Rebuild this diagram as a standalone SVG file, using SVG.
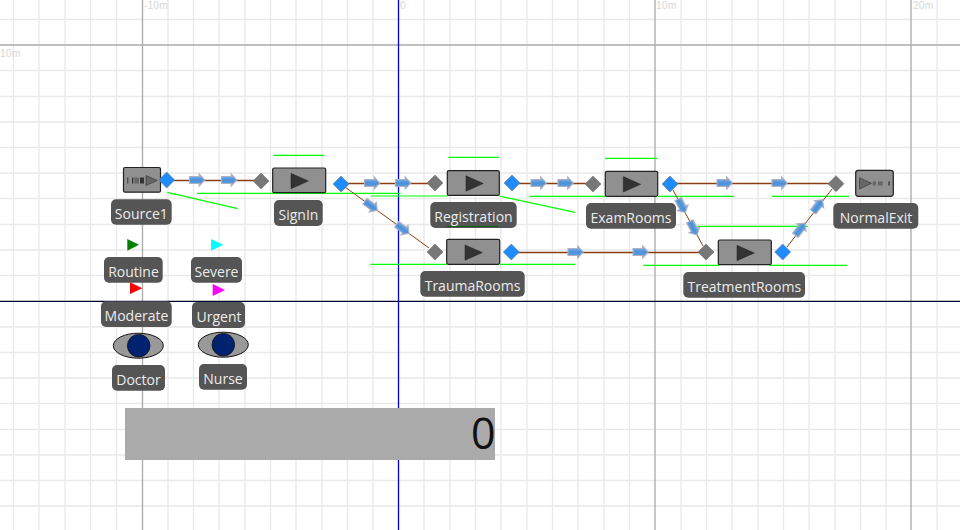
<svg xmlns="http://www.w3.org/2000/svg" width="960" height="530" viewBox="0 0 960 530">
<style>
text{font-family:"Open Sans","Liberation Sans",sans-serif}
.minor{stroke:#e9e9e9;stroke-width:1.3;fill:none}
.major{stroke:#aaa;stroke-width:1.300;fill:none}
.ax{font-family:"Liberation Sans",sans-serif;font-size:10.5px;fill:#d8d8d8}
.gl{stroke:#0f0;stroke-width:1.200;fill:none}
.box{fill:#909090;stroke:#222;stroke-width:1.200}
.tri{fill:#333;stroke:#222;stroke-width:.5}
.lb{fill:#555}
.lt{fill:#ececec;font-size:14px;text-anchor:middle}
.bd{fill:#1e8cff;stroke:#777;stroke-width:.6}
.gd{fill:#777;stroke:#777;stroke-width:.6}
.cn{stroke:#8b3e10;fill:none;stroke-width:1.500}
.cd{stroke:#8b3e10;fill:none;stroke-width:1}
.eye{fill:#999;stroke:#111;stroke-width:1}
.pu{fill:#00236f;stroke:#111;stroke-width:.8}
</style>
<defs>
<linearGradient id="ag" x1="0" y1="0" x2="0" y2="1"><stop offset="0" stop-color="#8fc0ee"/><stop offset=".5" stop-color="#4a90d9"/><stop offset="1" stop-color="#6fa8dc"/></linearGradient>
<path id="ar" d="M-7.500-3.500H2.200V-6L7.800 0 2.200 6V3.500H-7.500Z" fill="url(#ag)" stroke="#b0b0c4" stroke-width="1.100"/>
<path id="bd" class="bd" d="M0-8 8 0 0 8-8 0Z"/>
<path id="gd" class="gd" d="M0-8 8 0 0 8-8 0Z"/>
<path id="tr" class="tri" d="M0-7.700V7.700L17.300 0Z"/>
</defs>
<g id="grid">
<path class="minor" d="M13.500 0V530M39 0V530M65 0V530M90.500 0V530M116.500 0V530M168 0V530M193.500 0V530M219 0V530M245 0V530M270.500 0V530M296 0V530M322 0V530M347.500 0V530M373 0V530M424 0V530M450 0V530M475.500 0V530M501 0V530M527 0V530M552.500 0V530M578 0V530M604 0V530M629.500 0V530M681 0V530M706.500 0V530M732 0V530M758 0V530M783.500 0V530M809 0V530M835 0V530M860.500 0V530M886 0V530M937 0V530"/>
<path class="minor" d="M0 19.500H960M0 70.500H960M0 96.500H960M0 122H960M0 147.500H960M0 173H960M0 198.500H960M0 224.500H960M0 250H960M0 275.500H960M0 327H960M0 352.500H960M0 378H960M0 403.500H960M0 429.500H960M0 455H960M0 480.500H960M0 506H960"/>
<path class="major" d="M142.500 0V530M655 0V530M911 0V530M0 45H960"/>
<text class="ax" x="144" y="9">-10m</text><text class="ax" x="400" y="9">0</text><text class="ax" x="656" y="9">10m</text><text class="ax" x="913" y="9">20m</text><text class="ax" x="0" y="57">10m</text>
<path d="M398.500 0V530" stroke="#0000e6" stroke-width="1.300" fill="none"/>
<path d="M0 301.300H960" stroke="#00003a" stroke-width="1.300" fill="none"/>
</g>
<g id="resources-lines">
<path class="gl" d="M167.300 192.300 237.700 208.700M197 193.300H400.700M273.300 155.300H324M370.700 196H447.700M448.300 157.300H499M499.300 196 575 212.300M529.300 196.300H606M605 158.300H657M658 196.300H734M772 196.300H849M370.300 264.300H446.700M500 264.300H575M643.300 265.300H719M770 265.300H847M697.300 226.300H807.700"/>
</g>
<g id="connectors">
<path class="cn" d="M173 180.500H255M347 183.500H429M518 183.500H587M676 183.500H830M517 252.500H700"/>
<path class="cd" d="M345 187 429 248M673 190 703 246M787 247 832 189"/>
<use href="#ar" x="197" y="180"/><use href="#ar" x="229" y="180"/>
<use href="#ar" x="372" y="183"/><use href="#ar" x="403" y="183"/>
<use href="#ar" x="538.500" y="183"/><use href="#ar" x="565.500" y="183"/>
<use href="#ar" x="724.500" y="183"/><use href="#ar" x="779.500" y="183"/>
<use href="#ar" x="575.500" y="252"/><use href="#ar" x="640.500" y="252"/>
<use href="#ar" transform="translate(371 205.700) rotate(36)"/><use href="#ar" transform="translate(402.700 228.700) rotate(36)"/>
<use href="#ar" transform="translate(681.700 205.700) rotate(62)"/><use href="#ar" transform="translate(693.300 228) rotate(62)"/>
<use href="#ar" transform="translate(800 229.300) rotate(-52)"/><use href="#ar" transform="translate(817.700 206) rotate(-52)"/>
</g>
<g id="Source1">
<rect class="box" x="123.500" y="167.500" width="37" height="24.700" rx="1.500"/>
<path d="M127.300 177.500h1v6h-1zM132 177.500h1.300v6h-1.300zM140 177.500h4v6h-4z" fill="#333"/><path d="M134.300 177.500h4.700v6h-4.700z" fill="#666"/>
<path d="M146 175.500V185.500L157.300 180.500Z" fill="#666" stroke="#333" stroke-width=".6"/>
<use href="#bd" x="166.700" y="180"/>
<rect class="lb" x="111" y="199.300" width="60.700" height="25.500" rx="5"/><text class="lt" x="141.300" y="219">Source1</text>
</g>
<g id="SignIn">
<use href="#gd" x="261" y="181"/>
<rect class="box" x="272.700" y="168" width="53" height="24.700" rx="1.500"/>
<use href="#tr" x="291" y="181"/>
<use href="#bd" x="341" y="184"/>
<rect class="lb" x="274" y="200" width="48.700" height="26" rx="5"/><text class="lt" x="298.500" y="219.500">SignIn</text>
</g>
<g id="Registration">
<use href="#gd" x="435" y="183"/>
<rect class="box" x="447.300" y="170.700" width="52" height="24.700" rx="1.500"/>
<use href="#tr" x="466" y="183.500"/>
<use href="#bd" x="512" y="183"/>
<rect class="lb" x="430.300" y="202" width="86.400" height="26" rx="5"/><text class="lt" x="473.500" y="222">Registration</text>
</g>
<g id="ExamRooms">
<use href="#gd" x="593" y="184"/>
<rect class="box" x="605.300" y="171.300" width="52.400" height="25" rx="1.500"/>
<use href="#tr" x="623.300" y="184.300"/>
<use href="#bd" x="670" y="184"/>
<rect class="lb" x="586" y="203" width="90" height="25.700" rx="5"/><text class="lt" x="631" y="223">ExamRooms</text>
</g>
<g id="TraumaRooms">
<use href="#gd" x="435" y="252"/>
<rect class="box" x="446.700" y="239.300" width="53" height="25" rx="1.500"/>
<use href="#tr" x="465" y="252.600"/>
<use href="#bd" x="511.300" y="252"/>
<path d="M447 226.500H497.700" stroke="#006400" stroke-width="1"/>
<rect class="lb" x="420.300" y="271" width="104.400" height="25.700" rx="5"/><text class="lt" x="472.500" y="291">TraumaRooms</text>
</g>
<g id="TreatmentRooms">
<use href="#gd" x="706" y="252"/>
<rect class="box" x="718.300" y="240" width="53" height="24.700" rx="1.500"/>
<use href="#tr" x="737" y="253"/>
<use href="#bd" x="782.700" y="252"/>
<rect class="lb" x="683.300" y="272" width="121.700" height="25.700" rx="5"/><text class="lt" x="744.300" y="292">TreatmentRooms</text>
</g>
<g id="NormalExit">
<use href="#gd" x="836" y="183.700"/>
<rect class="box" x="855.700" y="170.300" width="37.600" height="26" rx="2.500"/>
<path d="M859.500 177.700V189L871.500 183.300Z" fill="#666" stroke="#333" stroke-width=".6"/>
<path d="M872.700 181.500h3.300v4h-3.300zM878 181.500h4.700v4h-4.700z" fill="#666"/><path d="M888.400 181.500h1.300v4h-1.300z" fill="#333"/>
<rect class="lb" x="833.300" y="203" width="85" height="25.700" rx="5"/><text class="lt" x="876" y="223">NormalExit</text>
</g>
<g id="Routine">
<path d="M127.300 239V250.700L139 244.800Z" fill="#008000"/>
<rect class="lb" x="104" y="257" width="58.700" height="25.700" rx="5"/><text class="lt" x="133.500" y="277">Routine</text>
</g>
<g id="Severe">
<path d="M211 239V250.700L223.300 244.800Z" fill="#0ff"/>
<rect class="lb" x="191" y="257" width="51" height="25.700" rx="5"/><text class="lt" x="216.500" y="277">Severe</text>
</g>
<g id="Moderate">
<rect class="lb" x="101" y="301.300" width="70.700" height="25.700" rx="5"/><text class="lt" x="136.500" y="321">Moderate</text>
<path d="M130 282.300V294L142.300 288.200Z" fill="#f00"/>
</g>
<g id="Urgent">
<path d="M212.700 284V296L225 290Z" fill="#f0f"/>
<rect class="lb" x="192" y="302" width="53" height="26" rx="5"/><text class="lt" x="219" y="322">Urgent</text>
</g>
<g id="Doctor">
<ellipse class="eye" cx="138.300" cy="345.700" rx="25" ry="12.500"/><circle class="pu" cx="138.700" cy="345.700" r="11.300"/>
<rect class="lb" x="112" y="365" width="53" height="25.700" rx="5"/><text class="lt" x="138.500" y="385">Doctor</text>
</g>
<g id="Nurse">
<ellipse class="eye" cx="223.300" cy="344.700" rx="25" ry="12.500"/><circle class="pu" cx="223.300" cy="344.700" r="11.300"/>
<rect class="lb" x="199" y="364" width="48" height="25.700" rx="5"/><text class="lt" x="223" y="384">Nurse</text>
</g>
<g id="Counter">
<rect x="125" y="408" width="370" height="52" fill="#aaa"/>
<text x="495.500" y="448.500" font-size="43" text-anchor="end" fill="#111">0</text>
</g>
</svg>
